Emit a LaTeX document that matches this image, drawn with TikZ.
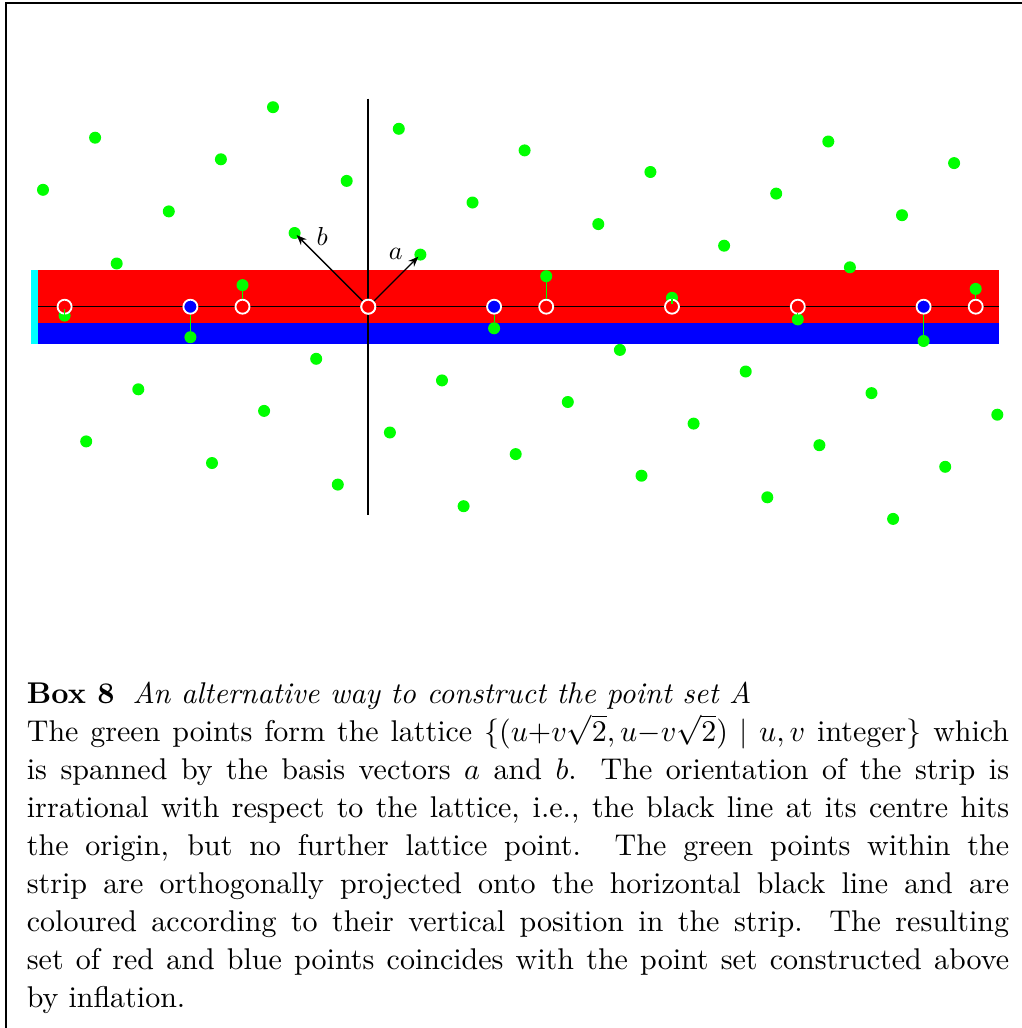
\RequirePackage{fix-cm}
\documentclass[tikz,border=0pt]{standalone}
\usetikzlibrary{arrows.meta}
\definecolor{cyanbar}{RGB}{0,255,255}
\definecolor{ptgreen}{RGB}{0,255,0}
\definecolor{stripred}{RGB}{255,0,0}
\definecolor{stripblue}{RGB}{0,0,255}
\begin{document}
\begin{tikzpicture}[x=1pt,y=-1pt,
  gdot/.style={circle,fill=ptgreen,inner sep=0pt,minimum size=12pt},
  proj/.style={circle,draw=white,line width=1.8pt,inner sep=0pt,minimum size=14pt},
  conn/.style={ptgreen,line width=1.1pt},
  vec/.style={-{Stealth[length=10pt,width=8pt]},line width=1.4pt,shorten >=3pt},
  lbl/.style={inner sep=0pt},
  frame/.style={line width=2.5pt}]
\useasboundingbox (0,0) rectangle (1022,1028);
% frame
\draw[frame] (6,1030) -- (6,3) -- (1025,3);
% strip
\fill[cyanbar] (31.3,270) rectangle (38.3,343.7);
\fill[stripred] (38.3,270) rectangle (999.3,322.7);
\fill[stripblue] (38.3,322.7) rectangle (999.3,343.7);
\draw[line width=1.5pt] (38.3,306.7) -- (999.3,306.7);
% vertical axis
\draw[line width=1.8pt] (368.3,98.5) -- (368.3,515);
% lattice points
\foreach \vv/\ua/\ub in {3/-2/-1, 2/-3/1, 1/-4/2, 0/-3/3, -1/-2/4, -2/-1/6, -3/1/7, -4/2/6, -5/3/5}{
  \foreach \uu in {\ua,...,\ub}{
    \node[gdot] (g\uu y\vv) at ({368.3+52.1*\uu-73.7*\vv},{306.7-52.1*\uu-73.7*\vv}) {};
  }
}
% projected points
\foreach \uu/\vv/\cc in {-3/2/stripred, -2/1/stripblue, -1/1/stripred, 0/0/stripred, 1/-1/stripblue, 2/-1/stripred, 3/-2/stripred, 4/-3/stripred, 5/-4/stripblue, 6/-4/stripred}{
  \node[proj,fill=\cc] (p\uu y\vv) at ({368.3+52.1*\uu-73.7*\vv},306.7) {};
  \draw[conn] (g\uu y\vv) -- (p\uu y\vv);
}
% basis vectors
\draw[vec] (p0y0) -- (g1y0.center);
\draw[vec] (p0y0) -- (g0y1.center);
\node[proj,fill=stripred] at (p0y0) {};
\node[lbl] (la) at (395.7,254) {\scalebox{2.6}{$a$}};
\node[lbl] (lb) at (322.3,236.5) {\scalebox{2.6}{$b$}};
% caption
\node[anchor=north west,inner sep=0pt] (cap) at (26.7,682) {\scalebox{3}{\parbox[t]{327.4pt}{\fontsize{10}{12.667}\selectfont
\hyphenpenalty=10000\exhyphenpenalty=10000%
\textbf{Box 8}\hskip 0.6em\textit{An alternative way to construct the point set A}\\
The green points form the lattice $\{(u{+}v\sqrt{2},u{-}v\sqrt{2})\mid u,v\ \mbox{integer}\}$ which\linebreak
is spanned by the basis vectors $a$ and $b$. The orientation of the strip is\linebreak
irrational with respect to the lattice, i.e., the black line at its centre hits\linebreak
the origin, but no further lattice point. The green points within the\linebreak
strip are orthogonally projected onto the horizontal black line and are\linebreak
coloured according to their vertical position in the strip. The resulting\linebreak
set of red and blue points coincides with the point set constructed above\linebreak
by inflation.}}};
\end{tikzpicture}
\end{document}
